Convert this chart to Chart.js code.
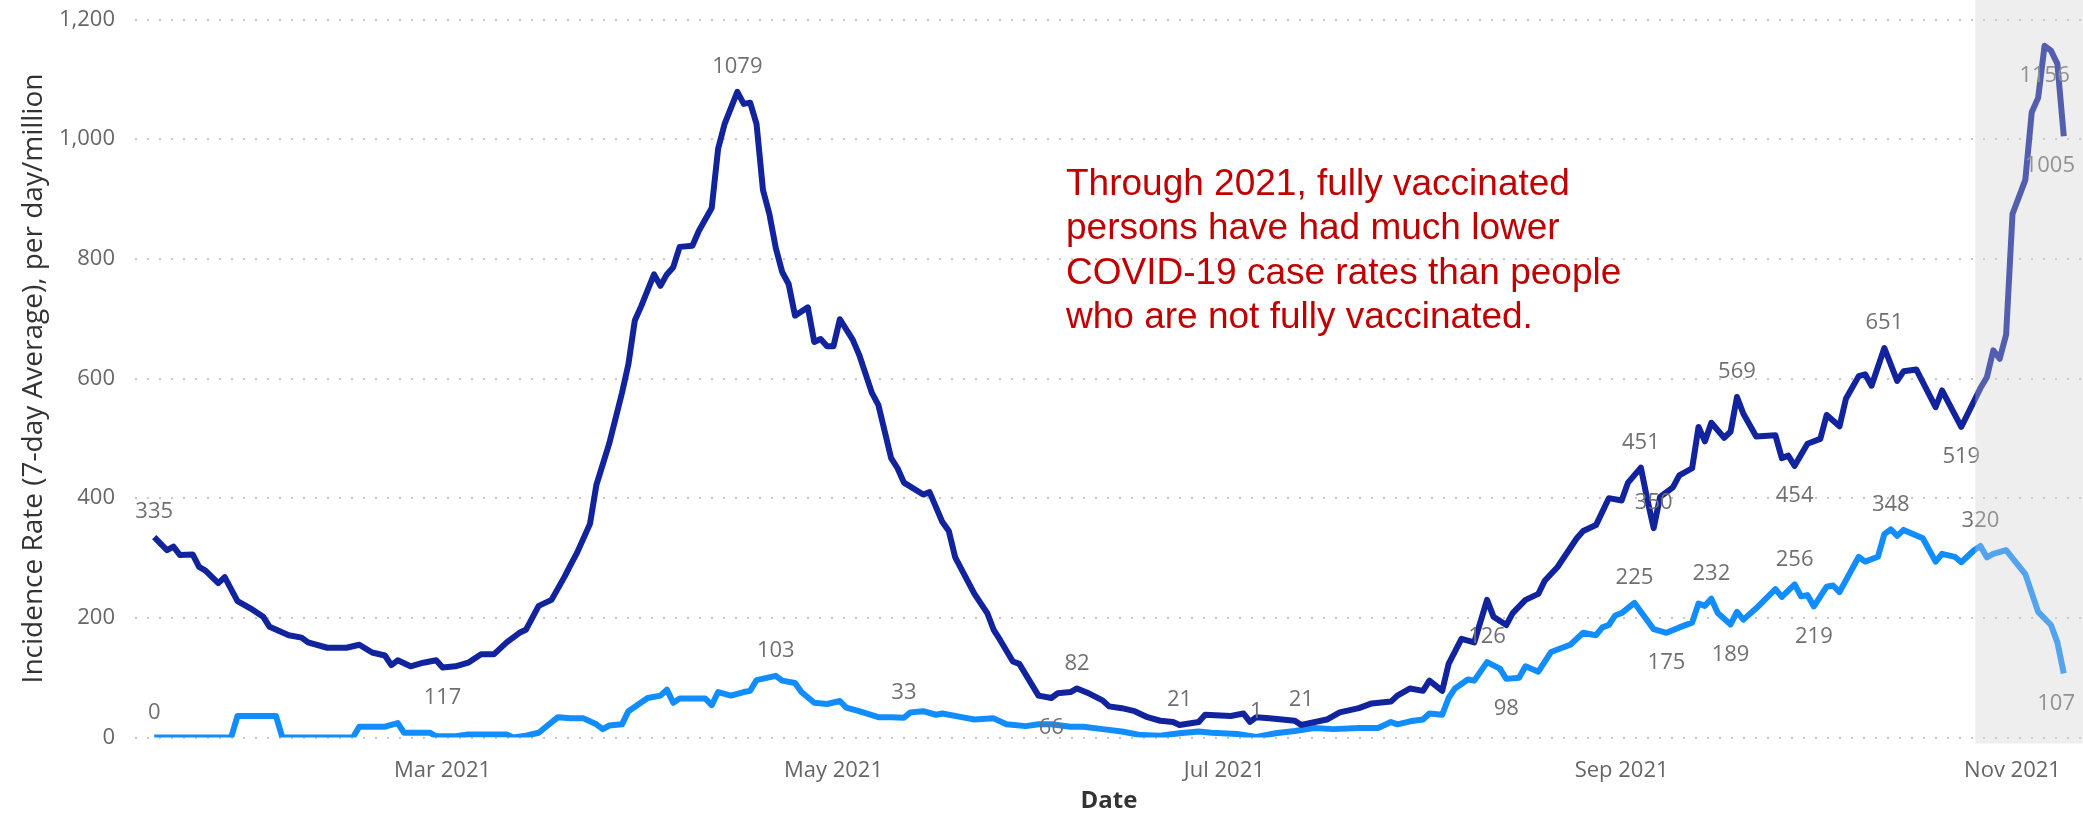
<!DOCTYPE html>
<html>
<head>
<meta charset="utf-8">
<script src="https://cdn.jsdelivr.net/npm/chart.js@4.4.1/dist/chart.umd.min.js"></script>
<style>
  html, body { margin: 0; padding: 0; background: #fff; }
  canvas { display: block; }
</style>
</head>
<body>
<canvas id="rates" width="2083" height="813"></canvas>
<script>
// Day of year 2021 (Jan 1 = 0) and 7-day average rate per million
const notVaxDays = [14, 16, 17, 18, 20, 21, 22, 24, 25, 27, 29, 31, 32, 35, 37, 38, 41, 44, 46, 48, 50, 51, 52, 54, 56, 58, 59, 61, 63, 65, 67, 69, 71, 72, 74, 76, 78, 79, 80, 82, 83, 85, 87, 88, 89, 90, 92, 93, 94, 95, 96, 98, 99, 101, 102, 103, 105, 106, 107, 108, 109, 110, 111, 112, 113, 114, 116, 117, 118, 119, 120, 121, 123, 124, 126, 127, 129, 130, 131, 134, 135, 137, 138, 139, 142, 144, 145, 146, 148, 149, 152, 154, 155, 157, 158, 160, 162, 163, 165, 167, 169, 171, 173, 174, 177, 178, 182, 184, 185, 186, 188, 192, 193, 197, 199, 202, 204, 207, 208, 210, 212, 213, 215, 216, 218, 220, 222, 223, 225, 226, 228, 230, 231, 233, 236, 237, 239, 241, 243, 244, 246, 247, 248, 249, 251, 252, 254, 255, 256, 257, 259, 260, 261, 262, 264, 267, 268, 269, 270, 272, 274, 275, 277, 278, 280, 281, 282, 284, 286, 287, 289, 292, 293, 296, 299, 300, 301, 302, 303, 304, 306, 307, 308, 309, 310, 311, 312];
const notVaxRates = [335, 313, 319, 305, 306, 285, 279, 258, 268, 228, 216, 202, 185, 171, 167, 159, 150, 150, 155, 142, 137, 121, 129, 119, 125, 129, 117, 119, 125, 139, 139, 159, 175, 180, 220, 230, 268, 289, 309, 357, 422, 491, 576, 624, 697, 721, 774, 755, 774, 786, 820, 822, 847, 885, 984, 1025, 1079, 1059, 1061, 1025, 915, 875, 818, 778, 758, 705, 719, 661, 666, 654, 654, 699, 665, 640, 576, 556, 467, 450, 426, 406, 410, 360, 345, 301, 240, 208, 180, 163, 127, 123, 70, 66, 74, 76, 82, 73, 62, 52, 49, 44, 34, 28, 26, 21, 26, 38, 36, 40, 26, 34, 32, 28, 21, 30, 42, 49, 57, 60, 70, 82, 78, 95, 78, 123, 165, 159, 230, 202, 188, 208, 230, 240, 262, 285, 333, 345, 355, 400, 396, 426, 451, 398, 350, 402, 418, 438, 450, 519, 495, 526, 501, 511, 569, 541, 503, 505, 467, 471, 454, 491, 499, 539, 520, 566, 604, 607, 588, 651, 596, 612, 615, 552, 580, 519, 584, 602, 647, 633, 673, 875, 932, 1045, 1069, 1156, 1148, 1126, 1005];
const vaxDays = [14, 26, 27, 33, 34, 45, 46, 50, 52, 53, 57, 58, 61, 63, 69, 70, 72, 74, 77, 79, 81, 83, 84, 85, 87, 88, 91, 93, 94, 95, 96, 100, 101, 102, 104, 106, 107, 108, 111, 112, 114, 115, 117, 119, 121, 122, 124, 127, 129, 131, 132, 134, 136, 137, 140, 142, 145, 147, 150, 152, 154, 157, 159, 162, 165, 168, 171, 174, 177, 179, 183, 186, 189, 192, 195, 198, 202, 205, 207, 208, 210, 212, 213, 215, 216, 217, 219, 220, 222, 224, 225, 227, 228, 230, 232, 233, 235, 237, 239, 240, 241, 242, 243, 245, 246, 248, 250, 252, 254, 255, 256, 257, 258, 260, 261, 262, 264, 267, 268, 270, 271, 272, 273, 275, 276, 277, 280, 281, 283, 284, 285, 286, 287, 290, 292, 293, 295, 296, 298, 299, 300, 301, 303, 306, 308, 310, 311, 312];
const vaxRates = [0, 0, 36, 36, 0, 0, 18, 18, 24, 8, 8, 2, 2, 5, 5, 0, 3, 8, 34, 32, 32, 22, 14, 20, 22, 44, 66, 70, 80, 58, 65, 65, 54, 76, 70, 76, 78, 96, 103, 95, 91, 76, 58, 56, 61, 50, 44, 34, 34, 33, 42, 44, 38, 40, 34, 30, 32, 22, 19, 22, 22, 18, 18, 14, 10, 4, 3, 7, 10, 8, 6, 1, 7, 11, 16, 14, 16, 16, 26, 22, 27, 30, 40, 38, 66, 82, 97, 95, 126, 115, 98, 100, 119, 110, 143, 147, 155, 175, 171, 184, 188, 204, 208, 225, 210, 181, 175, 184, 192, 224, 220, 232, 208, 189, 210, 197, 216, 248, 235, 256, 236, 238, 219, 252, 254, 243, 302, 294, 302, 340, 348, 337, 347, 333, 294, 307, 302, 293, 313, 320, 301, 307, 313, 273, 210, 188, 159, 107];

const tickDays = [59, 120, 181, 243, 304];
const tickLabels = ['Mar 2021', 'May 2021', 'Jul 2021', 'Sep 2021', 'Nov 2021'];

// which points carry a value label, and on which side
const notVaxLabelled = [[14, 'above'], [59, 'below'], [105, 'above'], [154, 'below'], [158, 'above'], [174, 'above'], [193, 'above'], [246, 'above'], [248, 'above'], [261, 'above'], [270, 'below'], [284, 'above'], [296, 'below'], [309, 'below'], [312, 'below']];
const vaxLabelled = [[14, 'above'], [111, 'above'], [131, 'above'], [186, 'above'], [222, 'above'], [225, 'below'], [245, 'above'], [250, 'below'], [257, 'above'], [260, 'below'], [270, 'above'], [273, 'below'], [285, 'above'], [299, 'above'], [312, 'below']];

const incompleteFrom = 298.2;
const note = ['Through 2021, fully vaccinated', 'persons have had much lower', 'COVID-19 case rates than people', 'who are not fully vaccinated.'];

const toPoints = (days, values) => days.map((d, i) => ({ x: d, y: values[i] }));

const pointLabels = {
  id: 'pointLabels',
  afterDatasetsDraw(chart) {
    const { ctx, chartArea } = chart;
    ctx.save();
    ctx.font = '22px "Open Sans"';
    ctx.fillStyle = '#707070';
    ctx.textAlign = 'center';
    ctx.textBaseline = 'middle';
    const sets = [[notVaxLabelled, notVaxDays, notVaxRates], [vaxLabelled, vaxDays, vaxRates]];
    sets.forEach(([specs, days, values], i) => {
      const meta = chart.getDatasetMeta(i);
      specs.forEach(([day, side]) => {
        const idx = days.indexOf(day);
        if (idx < 0) return;
        const pt = meta.data[idx];
        const text = String(values[idx]);
        const w = ctx.measureText(text).width;
        const x = Math.min(pt.x, chartArea.right - 8 - w / 2);
        const y = side === 'above' ? pt.y - 25 : pt.y + 30;
        ctx.fillText(text, x, y);
      });
    });
    ctx.restore();
  },
  afterDraw(chart) {
    const { ctx, chartArea, scales } = chart;
    // red note
    ctx.save();
    ctx.font = '37px "Liberation Sans", Arial, sans-serif';
    ctx.fillStyle = '#c00000';
    ctx.textBaseline = 'alphabetic';
    note.forEach((line, i) => ctx.fillText(line, 1066, 195 + i * 44.3));
    // incomplete-data shade
    const x0 = scales.x.getPixelForValue(incompleteFrom);
    ctx.fillStyle = 'rgba(205, 205, 205, 0.35)';
    ctx.fillRect(x0, 0, chart.width - x0, chartArea.bottom + 6);
    ctx.restore();
  }
};

new Chart(document.getElementById('rates'), {
  type: 'line',
  data: {
    datasets: [
      {
        label: 'Not fully vaccinated',
        data: toPoints(notVaxDays, notVaxRates),
        borderColor: '#12239e',
        borderWidth: 6,
        borderJoinStyle: 'round',
        pointRadius: 0,
        tension: 0
      },
      {
        label: 'Fully vaccinated',
        data: toPoints(vaxDays, vaxRates),
        borderColor: '#118dff',
        borderWidth: 6,
        borderJoinStyle: 'round',
        pointRadius: 0,
        tension: 0
      }
    ]
  },
  options: {
    responsive: false,
    animation: false,
    devicePixelRatio: 1,
    layout: { padding: { top: 19.5, right: 0, bottom: 0, left: 0 } },
    plugins: { legend: { display: false }, tooltip: { enabled: false } },
    scales: {
      x: {
        type: 'linear',
        min: 11,
        max: 315,
        afterBuildTicks: (scale) => { scale.ticks = tickDays.map(v => ({ value: v })); },
        afterFit: (scale) => { scale.height = 75.5; scale.paddingLeft = 0; scale.paddingRight = 0; },
        grid: { display: false },
        border: { display: false },
        ticks: {
          autoSkip: false,
          maxRotation: 0,
          padding: 12,
          color: '#666',
          font: { family: 'Open Sans', size: 22 },
          callback: (v) => tickLabels[tickDays.indexOf(v)]
        },
        title: {
          display: true,
          text: 'Date',
          color: '#333',
          font: { family: 'Open Sans', size: 24, weight: 'bold', lineHeight: 1 },
          padding: { top: 0, bottom: 0 }
        }
      },
      y: {
        min: 0,
        max: 1200,
        afterFit: (scale) => { scale.width = 135; scale.paddingTop = 0; scale.paddingBottom = 0; },
        ticks: {
          stepSize: 200,
          padding: 20,
          color: '#666',
          font: { family: 'Open Sans', size: 22 }
        },
        grid: { color: '#c8c8c8', lineWidth: 2, drawTicks: false },
        border: { display: false, dash: [2, 10] },
        title: {
          display: true,
          text: 'Incidence Rate (7-day Average), per day/million',
          color: '#333',
          font: { family: 'Open Sans', size: 28 },
          padding: { top: 17, bottom: 0 }
        }
      }
    }
  },
  plugins: [pointLabels]
});
</script>
</body>
</html>
